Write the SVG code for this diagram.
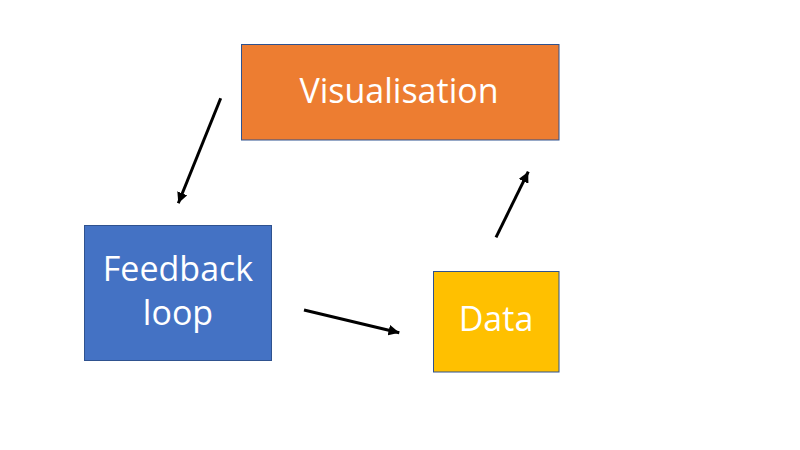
<svg xmlns="http://www.w3.org/2000/svg" width="800" height="450" viewBox="0 0 800 450">
<style>
.box{stroke:#2F528F;stroke-width:1}
.lbl{font-family:"Open Sans","Liberation Sans",sans-serif;fill:#fff;text-anchor:middle}
.arr{stroke:#000;stroke-width:3;fill:none;marker-end:url(#ah)}
</style>
<defs>
<marker id="ah" viewBox="0 0 10 10" refX="10" refY="5" markerWidth="3.6" markerHeight="3.6" orient="auto">
<path d="M0,0 L10,5 L0,10 Z" fill="#000"/>
</marker>
</defs>
<rect width="800" height="450" fill="#fff"/>
<g id="visualisation">
<rect class="box" x="241.5" y="44.5" width="317.5" height="95.5" fill="#ED7D31"/>
<text class="lbl" x="399" y="103" font-size="34">Visualisation</text>
</g>
<g id="feedback">
<rect class="box" x="84.5" y="225.5" width="187" height="135" fill="#4472C4"/>
<text class="lbl" x="178" y="281" font-size="34">Feedback</text>
<text class="lbl" x="178" y="325" font-size="34">loop</text>
</g>
<g id="data">
<rect class="box" x="433.5" y="271.5" width="125.5" height="100.5" fill="#FFC000"/>
<text class="lbl" x="496" y="331" font-size="34">Data</text>
</g>
<g id="connectors">
<line class="arr" x1="220.7" y1="98.3" x2="178.3" y2="203.3"/>
<line class="arr" x1="304" y1="310" x2="399.3" y2="332.7"/>
<line class="arr" x1="496" y1="237.3" x2="528.3" y2="171.7"/>
</g>
</svg>
